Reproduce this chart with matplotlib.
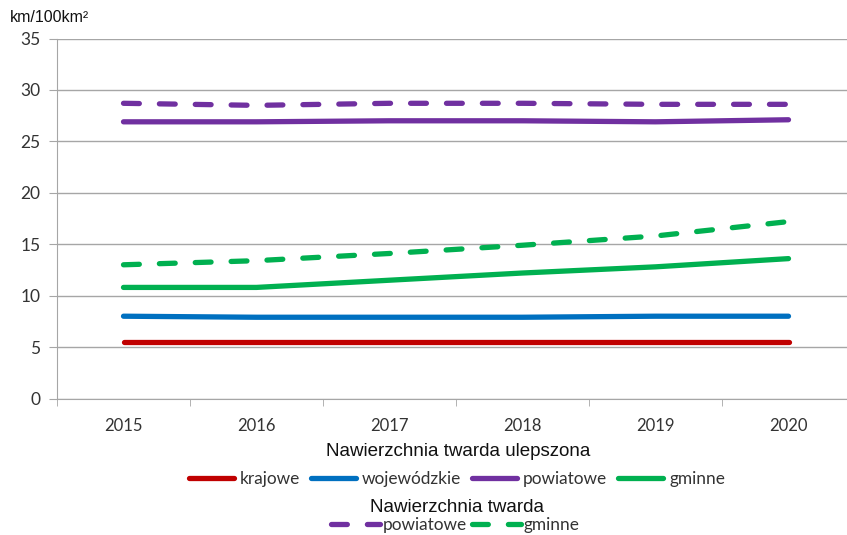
import matplotlib.pyplot as plt
from matplotlib.lines import Line2D

years = ['2015', '2016', '2017', '2018', '2019', '2020']

# Nawierzchnia twarda ulepszona
krajowe = [5.5, 5.5, 5.5, 5.5, 5.5, 5.5]
wojewodzkie = [8.0, 7.9, 7.9, 7.9, 8.0, 8.0]
powiatowe = [26.9, 26.9, 27.0, 27.0, 26.9, 27.1]
gminne = [10.8, 10.8, 11.5, 12.2, 12.8, 13.6]

# Nawierzchnia twarda
powiatowe_tw = [28.7, 28.5, 28.7, 28.7, 28.6, 28.6]
gminne_tw = [13.0, 13.4, 14.1, 14.9, 15.8, 17.2]

c_red = '#C00000'
c_blue = '#0070C0'
c_purple = '#7030A0'
c_green = '#00B050'
grid_c = '#A6A6A6'
txt_c = '#333333'

lw = 3.8
dash = (3.0, 3.8)

fig = plt.figure(figsize=(8.47, 5.35), dpi=100)
ax = fig.add_axes([57/847, 1-398.5/535, (855-57)/847, 360/535])

x = list(range(len(years)))
ax.plot(x, krajowe, color=c_red, lw=lw, solid_capstyle='round')
ax.plot(x, wojewodzkie, color=c_blue, lw=lw, solid_capstyle='round')
ax.plot(x, powiatowe, color=c_purple, lw=lw, solid_capstyle='round')
ax.plot(x, gminne, color=c_green, lw=lw, solid_capstyle='round')
ax.plot(x, powiatowe_tw, color=c_purple, lw=lw, dashes=dash, dash_capstyle='round')
ax.plot(x, gminne_tw, color=c_green, lw=lw, dashes=dash, dash_capstyle='round')

ax.set_xlim(-0.5, 5.5)
ax.set_ylim(0, 35)
ax.set_yticks(range(0, 36, 5))
ax.set_xticks(x)
ax.set_xticklabels(years, fontfamily='Lato', fontsize=12, color=txt_c)
ax.set_xticks([i + 0.5 for i in range(-1, 6)], minor=True)
ax.tick_params(axis='x', which='major', length=0, pad=14)
ax.tick_params(axis='x', which='minor', length=5, color=grid_c, direction='out')
ax.tick_params(axis='y', length=6, color=grid_c, labelsize=12.5, labelcolor=txt_c, pad=6)
for lab in ax.get_yticklabels():
    lab.set_fontfamily('Lato')

ax.grid(axis='y', color=grid_c, lw=1)
ax.set_axisbelow(True)
for s in ['top', 'right']:
    ax.spines[s].set_visible(False)
ax.spines['left'].set_color(grid_c)
ax.spines['bottom'].set_color(grid_c)

fig.text(10/847, 1-18/535, 'km/100km²', fontsize=11.5, fontfamily='Liberation Sans',
         va='center', ha='left', color='#111111')

fig.text(458/847, 1-452/535, 'Nawierzchnia twarda ulepszona', fontsize=13.5,
         fontfamily='Liberation Sans', ha='center', va='center', color='#111111')
fig.text(457/847, 1-508/535, 'Nawierzchnia twarda', fontsize=13.5,
         fontfamily='Liberation Sans', ha='center', va='center', color='#111111')

h1 = [Line2D([], [], color=c, lw=lw, solid_capstyle='round') for c in [c_red, c_blue, c_purple, c_green]]
leg1 = fig.legend(h1, ['krajowe', 'wojewódzkie', 'powiatowe', 'gminne'], ncol=4,
                  loc='center', bbox_to_anchor=(457/847, 1-479/535), frameon=False,
                  handlelength=2.6, handletextpad=0.35, columnspacing=0.65,
                  borderpad=0, prop={'family': 'Lato', 'size': 12.4})
h2 = [Line2D([], [], color=c, lw=lw, dashes=dash, dash_capstyle='round') for c in [c_purple, c_green]]
leg2 = fig.legend(h2, ['powiatowe', 'gminne'], ncol=2,
                  loc='center', bbox_to_anchor=(455/847, 1-525/535), frameon=False,
                  handlelength=2.85, handletextpad=0.15, columnspacing=0.3,
                  borderpad=0, prop={'family': 'Lato', 'size': 12.4})
for t in leg1.get_texts() + leg2.get_texts():
    t.set_color(txt_c)

fig.savefig('out.png', dpi=100)
